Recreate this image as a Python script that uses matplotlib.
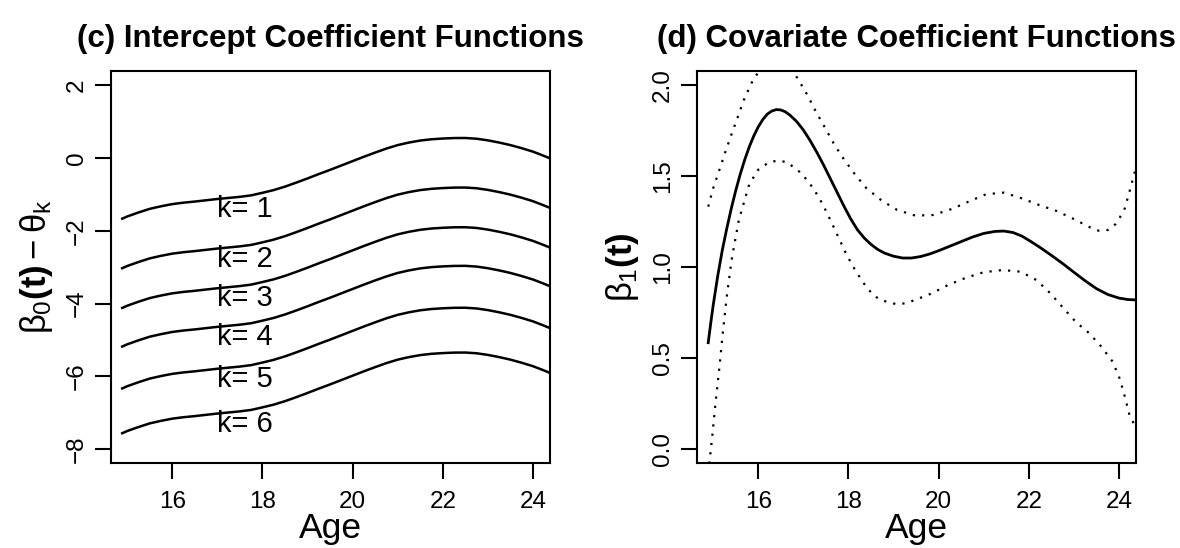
import matplotlib
matplotlib.use('Agg')
import matplotlib.pyplot as plt
import numpy as np

plt.rcParams['font.family'] = ['Liberation Sans', 'DejaVu Sans']
plt.rcParams['mathtext.fontset'] = 'custom'
plt.rcParams['mathtext.rm'] = 'Liberation Sans'
plt.rcParams['mathtext.it'] = 'Liberation Sans'
plt.rcParams['mathtext.bf'] = 'Liberation Sans:bold'

# (c) intercept curves: beta0(t) - theta_k, k = 1..6
age_c = [14.89, 15.0, 15.25, 15.5, 15.75, 16.0, 16.25, 16.5, 16.75, 17.0, 17.25, 17.5,
         17.75, 18.0, 18.25, 18.5, 18.75, 19.0, 19.25, 19.5, 19.75, 20.0, 20.25, 20.5,
         20.75, 21.0, 21.25, 21.5, 21.75, 22.0, 22.25, 22.5, 22.75, 23.0, 23.25, 23.5,
         23.75, 24.0, 24.2, 24.37]
beta0 = [-1.67, -1.61, -1.50, -1.40, -1.33, -1.27, -1.23, -1.20, -1.165, -1.13, -1.10, -1.07,
         -1.03, -0.96, -0.885, -0.79, -0.68, -0.565, -0.445, -0.33, -0.21, -0.09, 0.03, 0.145,
         0.255, 0.35, 0.42, 0.475, 0.51, 0.53, 0.543, 0.545, 0.525, 0.48, 0.42, 0.35,
         0.265, 0.17, 0.075, -0.01]
theta = [0.0, 1.36, 2.45, 3.51, 4.66, 5.89]
k_labels = ['k= 1', 'k= 2', 'k= 3', 'k= 4', 'k= 5', 'k= 6']

# (d) covariate coefficient with dotted bands
age_d = [14.89, 14.95, 15.0, 15.1, 15.2, 15.3, 15.4, 15.5, 15.6, 15.7, 15.8, 15.9,
         16.0, 16.1, 16.2, 16.3, 16.4, 16.5, 16.6, 16.7, 16.85, 17.0, 17.15, 17.3,
         17.45, 17.6, 17.75, 17.9, 18.05, 18.2, 18.35, 18.5, 18.65, 18.8, 19.0, 19.2,
         19.4, 19.6, 19.8, 20.0, 20.25, 20.5, 20.75, 21.0, 21.25, 21.45, 21.65, 21.85,
         22.05, 22.25, 22.5, 22.75, 23.0, 23.25, 23.5, 23.75, 24.0, 24.2, 24.37]
beta1 = [0.585, 0.70, 0.79, 0.95, 1.09, 1.21, 1.32, 1.42, 1.51, 1.59, 1.66, 1.72,
         1.77, 1.81, 1.84, 1.857, 1.865, 1.863, 1.853, 1.835, 1.80, 1.753, 1.695, 1.63,
         1.56, 1.485, 1.41, 1.335, 1.265, 1.205, 1.16, 1.125, 1.097, 1.077, 1.06, 1.05,
         1.05, 1.058, 1.072, 1.09, 1.115, 1.14, 1.165, 1.185, 1.196, 1.198, 1.19, 1.17,
         1.14, 1.108, 1.065, 1.02, 0.972, 0.925, 0.882, 0.85, 0.83, 0.822, 0.82]

age_up = [14.89, 15.0, 15.13, 15.26, 15.4, 15.54, 15.68, 15.85, 15.96, 16.2, 16.42, 16.65,
          16.87, 17.09, 17.28, 17.48, 17.68, 17.9, 18.14, 18.4, 18.74, 19.08, 19.48, 19.88,
          20.29, 20.66, 21.05, 21.45, 21.84, 22.23, 22.62, 23.0, 23.37, 23.55, 23.76, 23.92,
          24.03, 24.13, 24.24, 24.37]
upper = [1.332, 1.433, 1.528, 1.625, 1.725, 1.82, 1.918, 2.01, 2.055, 2.13, 2.15, 2.12,
         2.037, 1.945, 1.853, 1.766, 1.676, 1.592, 1.511, 1.433, 1.365, 1.314, 1.283, 1.286,
         1.319, 1.359, 1.40, 1.409, 1.378, 1.341, 1.308, 1.264, 1.217, 1.2, 1.204, 1.235,
         1.277, 1.323, 1.42, 1.54]

age_lo = [14.89, 14.97, 15.05, 15.14, 15.22, 15.31, 15.42, 15.57, 15.8, 16.0, 16.24, 16.44,
          16.64, 16.96, 17.22, 17.43, 17.61, 17.79, 17.96, 18.16, 18.39, 18.53, 18.7, 19.07,
          19.28, 19.48, 19.85, 20.21, 20.61, 21.0, 21.42, 21.82, 22.17, 22.48, 22.76, 23.04,
          23.34, 23.61, 23.86, 24.02, 24.13, 24.23, 24.37]
lower = [-0.13, 0.047, 0.249, 0.454, 0.655, 0.856, 1.057, 1.259, 1.455, 1.535, 1.576, 1.585,
         1.576, 1.515, 1.433, 1.345, 1.253, 1.158, 1.067, 0.979, 0.893, 0.853, 0.82, 0.796,
         0.802, 0.82, 0.856, 0.902, 0.942, 0.972, 0.984, 0.975, 0.929, 0.856, 0.777, 0.70,
         0.637, 0.563, 0.481, 0.386, 0.289, 0.192, 0.12]

x_ticks = [16, 18, 20, 22, 24]
tick_size = 17.5

fig = plt.figure(figsize=(11.8, 5.48), dpi=100)
ax1 = fig.add_axes([0.0938, 0.1546, 0.3720, 0.7159])
ax2 = fig.add_axes([0.5904, 0.1546, 0.3720, 0.7159])


def style(ax, yticks, ylabels):
    for s in ax.spines.values():
        s.set_linewidth(1.5)
    ax.set_xlim(14.634, 24.37)
    ax.set_xticks(x_ticks)
    ax.set_xticklabels([str(v) for v in x_ticks], fontsize=tick_size)
    ax.set_yticks(yticks)
    ax.set_yticklabels(ylabels, fontsize=tick_size, rotation=90, va='center')
    ax.tick_params(axis='both', length=11.5, width=1.5)
    ax.tick_params(axis='x', pad=8.5)
    ax.tick_params(axis='y', pad=5)
    ax.set_xlabel('Age', fontsize=25.5)
    ax.xaxis.set_label_coords(0.5, -0.125)


# left panel
for th, lab in zip(theta, k_labels):
    ax1.plot(age_c, np.array(beta0) - th, color='black', lw=1.8)
    ax1.text(17.0, np.interp(17.0, age_c, beta0) - th - 0.28, lab,
             fontsize=21, ha='left', va='center')
ax1.set_ylim(-8.385, 2.385)
style(ax1, [-8, -6, -4, -2, 0, 2],
      ['\u22128', '\u22126', '\u22124', '\u22122', '0', '2'])
ax1.set_ylabel(r'$\beta_0\mathbf{(t)} - \theta_k$', fontsize=25)
ax1.yaxis.set_label_coords(-0.127, 0.5)
ax1.set_title('(c) Intercept Coefficient Functions', fontsize=22.5,
              fontweight='bold', pad=17.5)

# right panel
ax2.plot(age_d, beta1, color='black', lw=2.0)
ax2.plot(age_up, upper, color='black', lw=1.6, linestyle=(0, (1, 3.2)))
ax2.plot(age_lo, lower, color='black', lw=1.6, linestyle=(0, (1, 3.2)))
ax2.set_ylim(-0.077, 2.077)
style(ax2, [0.0, 0.5, 1.0, 1.5, 2.0], ['0.0', '0.5', '1.0', '1.5', '2.0'])
ax2.set_ylabel(r'$\beta_1\mathbf{(t)}$', fontsize=25)
ax2.yaxis.set_label_coords(-0.127, 0.5)
ax2.set_title('(d) Covariate Coefficient Functions', fontsize=22.5,
              fontweight='bold', pad=17.5)

fig.savefig('out.png', dpi=100)
